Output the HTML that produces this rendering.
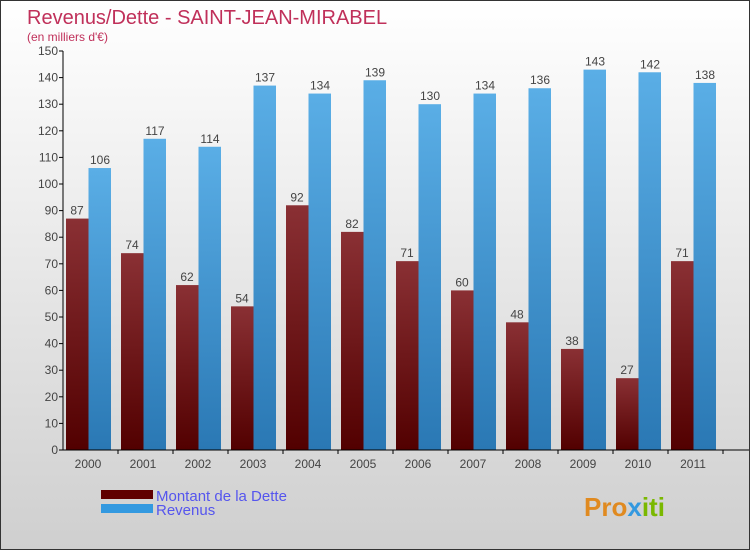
<!DOCTYPE html>
<html><head><meta charset="utf-8"><style>
body{margin:0;}
#wrap{width:750px;height:550px;position:relative;box-sizing:border-box;border:1px solid #333;background:linear-gradient(#ffffff,#cfcfcf);font-family:"Liberation Sans",sans-serif;overflow:hidden}
svg{position:absolute;left:0;top:0}
</style></head><body>
<div id="wrap">
<svg id="c" width="750" height="550">
<text x="26" y="23" font-size="20" fill="#c0305a">Revenus/Dette - SAINT-JEAN-MIRABEL</text>
<text x="26" y="40" font-size="12" fill="#c0305a">(en milliers d'€)</text>
<rect x="100" y="489" width="52" height="9" fill="#600000"/>
<rect x="100" y="503" width="52" height="9" fill="#3399e0"/>
<text x="155" y="500" font-size="15" fill="#5555ee">Montant de la Dette</text>
<text x="155" y="514" font-size="15" fill="#5555ee">Revenus</text>
<text x="583" y="515" font-size="26" font-weight="bold" fill="#e08a20">Pro<tspan fill="#3399e0">x</tspan><tspan fill="#7ab800">iti</tspan></text>
</svg>
</div>
<script>
const years=["2000","2001","2002","2003","2004","2005","2006","2007","2008","2009","2010","2011"];
const dette=[87,74,62,54,92,82,71,60,48,38,27,71];
const revenus=[106,117,114,137,134,139,130,134,136,143,142,138];
const ticks=[0,10,20,30,40,50,60,70,80,90,100,110,120,130,140,150];
const svg=document.getElementById('c'),NS="http://www.w3.org/2000/svg";
const X0=62,X1=722,Y0=449,Y1=50,MAX=150;
const yS=v=>Y0-(v/MAX)*(Y0-Y1);
const gw=(X1-X0)/years.length;
function mk(t,a){const e=document.createElementNS(NS,t);for(const k in a)e.setAttribute(k,a[k]);svg.appendChild(e);return e;}
const defs=mk('defs',{});
defs.innerHTML='<linearGradient id="gd" x1="0" y1="0" x2="0" y2="1"><stop offset="0" stop-color="#8a3034"/><stop offset="1" stop-color="#520000"/></linearGradient><linearGradient id="gr" x1="0" y1="0" x2="0" y2="1"><stop offset="0" stop-color="#5aaee6"/><stop offset="1" stop-color="#2a78b4"/></linearGradient>';
years.forEach((y,i)=>{
 const gx=X0+i*gw;
 const d=mk('rect',{x:gx+3,y:yS(dette[i]),width:22.5,height:Y0-yS(dette[i]),fill:'url(#gd)'});
 
 
 const r=mk('rect',{x:gx+25.5,y:yS(revenus[i]),width:22.5,height:Y0-yS(revenus[i]),fill:'url(#gr)'});
 
 
 const t1=mk('text',{x:gx+14,y:yS(dette[i])-4,'font-size':12,fill:'#444','text-anchor':'middle'});t1.textContent=dette[i];
 
 
 const t2=mk('text',{x:gx+37,y:yS(revenus[i])-4,'font-size':12,fill:'#444','text-anchor':'middle'});t2.textContent=revenus[i];
 
 
 const xl=mk('text',{x:gx+25,y:467,'font-size':12,fill:'#444','text-anchor':'middle'});xl.textContent=y;
 
 
 mk('line',{x1:gx+gw,x2:gx+gw,y1:Y0,y2:Y0+4,stroke:'#000'});
});
ticks.forEach(v=>{
 mk('line',{x1:X0-4,x2:X0,y1:yS(v),y2:yS(v),stroke:'#000'});
 const t=mk('text',{x:X0-5,y:yS(v)+4,'font-size':12,fill:'#444','text-anchor':'end'});t.textContent=v;
 
 
});
const ya=mk('line',{x1:X0,x2:X0,y1:Y1,y2:Y0,stroke:'#000'});


const xa=mk('line',{x1:X0,x2:X1+26,y1:Y0,y2:Y0,stroke:'#000'});


</script>
</body></html>
